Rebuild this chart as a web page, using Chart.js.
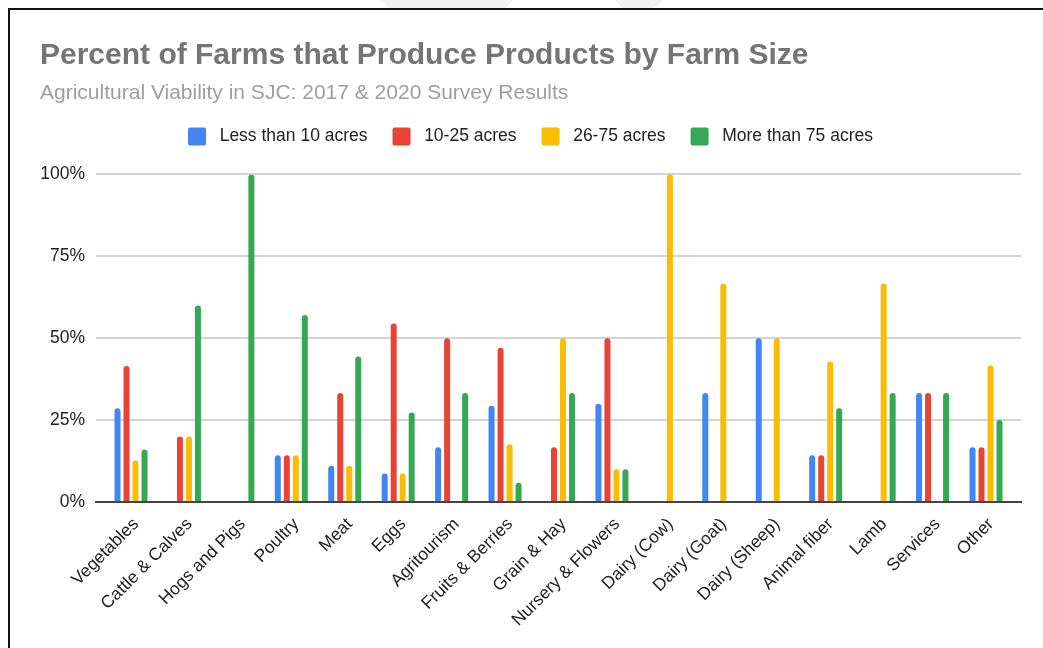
<!DOCTYPE html>
<html>
<head>
<meta charset="utf-8">
<script src="https://cdn.jsdelivr.net/npm/chart.js@4"></script>
<style>
  html, body { margin: 0; padding: 0; background: #fff; }
  body { width: 1043px; height: 648px; position: relative; overflow: hidden; }
  .blob { position: absolute; border-radius: 50%; }
  .frame {
    position: absolute; left: 8px; top: 8px; width: 1100px; height: 700px;
    border-left: 2px solid #111; border-top: 2px solid #111; background: #fff;
  }
  .wrap { position: absolute; left: 10px; top: 10px; width: 1033px; height: 638px; }
</style>
</head>
<body>
<div class="blob" style="left:303px; top:-386px; width:438px; height:438px; background:#f2f2f2;"></div>
<div class="blob" style="left:490px; top:-20px; width:148px; height:148px; background:#fff;"></div>
<div class="frame"></div>
<div class="wrap"><canvas id="farm-chart"></canvas></div>
<script>
const categories = ['Vegetables', 'Cattle & Calves', 'Hogs and Pigs', 'Poultry', 'Meat', 'Eggs',
    'Agritourism', 'Fruits & Berries', 'Grain & Hay', 'Nursery & Flowers', 'Dairy (Cow)',
    'Dairy (Goat)', 'Dairy (Sheep)', 'Animal fiber', 'Lamb', 'Services', 'Other'];

const seriesNames = ['Less than 10 acres', '10-25 acres', '26-75 acres', 'More than 75 acres'];

// percent of farms in each size group producing each product
const lessThan10 = [28.6, 0, 0, 14.3, 11.1, 8.7, 16.7, 29.4, 0, 30, 0, 33.3, 50, 14.3, 0, 33.3, 16.7];
const from10to25 = [41.5, 20, 0, 14.3, 33.3, 54.5, 50, 47.1, 16.7, 50, 0, 0, 0, 14.3, 0, 33.3, 16.7];
const from26to75 = [12.7, 20, 0, 14.3, 11.1, 8.7, 0, 17.6, 50, 10, 100, 66.7, 50, 42.9, 66.7, 0, 41.7];
const moreThan75 = [16, 60, 100, 57.1, 44.4, 27.3, 33.3, 5.9, 33.3, 10, 0, 0, 0, 28.6, 33.3, 33.3, 25];

const yTicks = [0, 25, 50, 75, 100];

const colors = ['#4285f4', '#ea4335', '#fbbc04', '#34a853'];
const fontFamily = '"Liberation Sans", Arial, sans-serif';

const datasets = [lessThan10, from10to25, from26to75, moreThan75].map((values, i) => ({
    label: seriesNames[i],
    data: values,
    backgroundColor: colors[i],
    borderWidth: 0,
    borderRadius: {topLeft: 3, topRight: 3},
    borderSkipped: 'start',
    categoryPercentage: 0.674,
    barPercentage: 0.667
}));

// pushes the plot a bit further below the legend
const legendGap = {
    id: 'legendGap',
    beforeInit(chart) {
        const fit = chart.legend.fit;
        chart.legend.fit = function () {
            fit.call(this);
            this.height += 19;
        };
    }
};

new Chart(document.getElementById('farm-chart'), {
    type: 'bar',
    data: {
        labels: categories,
        datasets: datasets
    },
    options: {
        responsive: true,
        maintainAspectRatio: false,
        animation: false,
        layout: {
            padding: {left: 30, right: 22, top: 0, bottom: 0}
        },
        plugins: {
            title: {
                display: true,
                text: 'Percent of Farms that Produce Products by Farm Size',
                align: 'start',
                color: '#757575',
                font: {family: fontFamily, size: 30, weight: 'bold', lineHeight: 1},
                padding: {top: 31, bottom: 7}
            },
            subtitle: {
                display: true,
                text: 'Agricultural Viability in SJC: 2017 & 2020 Survey Results',
                align: 'start',
                color: '#9e9e9e',
                font: {family: fontFamily, size: 21, lineHeight: 0.9},
                padding: {top: 5.5, bottom: 0}
            },
            legend: {
                display: true,
                position: 'top',
                labels: {
                    color: '#222',
                    font: {family: fontFamily, size: 17.5},
                    boxWidth: 18,
                    boxHeight: 18,
                    useBorderRadius: true,
                    borderRadius: 2,
                    padding: 25,
                    generateLabels(chart) {
                        return Chart.defaults.plugins.legend.labels.generateLabels(chart)
                            .map(item => ({...item, text: ' ' + item.text}));
                    }
                }
            },
            tooltip: {enabled: false}
        },
        scales: {
            x: {
                grid: {display: false, drawTicks: false},
                border: {display: true, color: '#444', width: 2},
                afterBuildTicks(axis) {
                    // a little extra room at both ends of the category axis
                    axis._startValue -= 0.155;
                    axis._valueRange += 0.31;
                },
                afterFit(axis) {
                    // fixed band for the slanted labels; they may hang past the plot edge
                    axis.height = 146;
                    axis.paddingLeft = 0;
                    axis.paddingRight = 0;
                },
                ticks: {
                    autoSkip: false,
                    maxRotation: 45,
                    minRotation: 45,
                    padding: 12,
                    labelOffset: 5,
                    color: '#222',
                    font: {family: fontFamily, size: 17.5}
                }
            },
            y: {
                min: 0,
                max: 100,
                afterBuildTicks(axis) {
                    axis.ticks = yTicks.map(v => ({value: v}));
                },
                afterFit(axis) {
                    axis.width = 56;
                },
                grid: {color: '#d4d4d4', lineWidth: 2, drawTicks: false},
                border: {display: false},
                ticks: {
                    padding: 11,
                    color: '#222',
                    font: {family: fontFamily, size: 17.5},
                    callback: value => value + '%'
                }
            }
        }
    },
    plugins: [legendGap]
});
</script>
</body>
</html>
